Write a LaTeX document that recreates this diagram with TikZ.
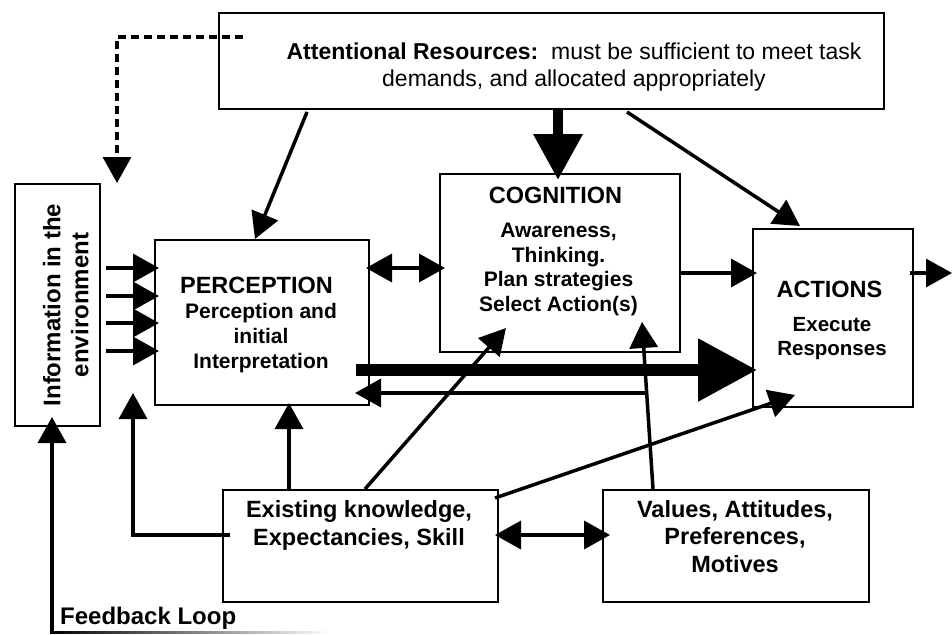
\documentclass[tikz,border=0pt]{standalone}
\usepackage{fontspec}
\setmainfont{Liberation Sans}
\usetikzlibrary{arrows.meta}
\newcommand\fsz[2]{\fontsize{#1}{#2}\selectfont}
\begin{document}
\begin{tikzpicture}[x=1pt,y=-1pt,
 box/.style={draw, line width=2pt, inner sep=0pt, anchor=north west},
 txt/.style={inner sep=0pt, align=center},
 arr/.style={line width=3.5pt, -{Triangle[length=26pt,width=28pt]}},
 darr/.style={line width=3.5pt, {Triangle[length=26pt,width=28pt]}-{Triangle[length=26pt,width=28pt]}},
]
\useasboundingbox (0,0) rectangle (952,634);
% boxes
\node[box, minimum width=665pt, minimum height=96pt] (att) at (218,12) {};
\node[box, minimum width=85pt, minimum height=242pt] (info) at (14,183) {};
\node[box, minimum width=214pt, minimum height=165pt] (perc) at (154,239) {};
\node[box, minimum width=240pt, minimum height=178pt] (cog) at (439,173) {};
\node[box, minimum width=160pt, minimum height=178pt] (act) at (752,228) {};
\node[box, minimum width=275pt, minimum height=112pt] (exist) at (222,489) {};
\node[box, minimum width=266pt, minimum height=112pt] (vals) at (602,489) {};
% texts
\node[txt, anchor=north, font=\fsz{23}{27}] (attt) at (574,42.4)
  {{\bfseries Attentional Resources:}\ \ must be sufficient to meet task\\demands, and allocated appropriately};
\node[txt, rotate=90, anchor=north, font=\fsz{24}{28}\bfseries] (infot) at (42.7,305)
  {Information in the\\environment};
\node[txt, anchor=base, font=\fsz{23.5}{28}\bfseries] (perct) at (256.5,293) {PERCEPTION};
\node[txt, anchor=north, font=\fsz{21}{25}\bfseries] (percb) at (261,302.9)
  {Perception and\\initial\\Interpretation};
\node[txt, anchor=base, font=\fsz{23.5}{28}\bfseries] (cogt) at (555.5,203) {COGNITION};
\node[txt, anchor=north, font=\fsz{21}{24.7}\bfseries] (cogb) at (558.5,222.9)
  {Awareness,\\Thinking.\\Plan strategies\\Select Action(s)};
\node[txt, anchor=base, font=\fsz{23.5}{28}\bfseries] (actt) at (829.5,297) {ACTIONS};
\node[txt, anchor=north, font=\fsz{20.5}{24}\bfseries] (actb) at (832,317.2)
  {Execute\\Responses};
\node[txt, anchor=north, font=\fsz{23.5}{28}\bfseries] (existt) at (359,500.1)
  {Existing knowledge,\\Expectancies, Skill};
\node[txt, anchor=north, font=\fsz{23.5}{27.5}\bfseries] (valst) at (735,500.1)
  {Values, Attitudes,\\Preferences,\\Motives};
\node[txt, anchor=base west, font=\fsz{24}{28}\bfseries] (fbt) at (60,624) {Feedback Loop};
% coordinates
\coordinate (d0) at (243,37);
\coordinate (d1) at (117,183);
\coordinate (a1) at (307,112);
\coordinate (a1e) at (255,239);
\coordinate (a2) at (558,108);
\coordinate (a2e) at (558,180);
\coordinate (a3) at (627,112);
\coordinate (a3e) at (800,226);
\coordinate (pc1) at (366,268);
\coordinate (pc2) at (445,268);
\coordinate (ca1) at (679,273);
\coordinate (ca2) at (757,273);
\coordinate (ao1) at (910,273);
\coordinate (ao2) at (952,273);
\coordinate (big1) at (356,370);
\coordinate (big2) at (757,370);
\coordinate (bk1) at (645,393);
\coordinate (bk2) at (355,393);
\coordinate (ec1) at (365,489);
\coordinate (ec2) at (506,328);
\coordinate (ea1) at (495,498);
\coordinate (ea2) at (795,395);
\coordinate (vc1) at (653,489);
\coordinate (vc2) at (642,322);
\coordinate (ep1) at (289,489);
\coordinate (ep2) at (289,403);
\coordinate (el1) at (230,535);
\coordinate (el2) at (133,393);
\coordinate (ev1) at (495,535);
\coordinate (ev2) at (610,535);
\coordinate (fb1) at (52,634);
\coordinate (fb2) at (52,417);
\foreach \yy/\nm in {268/i1,296/i2,323/i3,351/i4}{
  \coordinate (\nm s) at (106,\yy);
  \coordinate (\nm e) at (159,\yy);
}
% connectors
\draw[line width=3.5pt, dash pattern=on 8pt off 5pt, -{Triangle[length=26pt,width=28pt]}] (d0) -| (d1);
\draw[arr] (a1) -- (a1e);
\draw[line width=10pt, -{Triangle[length=46pt,width=47pt]}] (a2) -- (a2e);
\draw[arr] (a3) -- (a3e);
\draw[darr] (pc1) -- (pc2);
\draw[arr] (ca1) -- (ca2);
\draw[arr] (ao1) -- (ao2);
\draw[line width=12pt, -{Triangle[length=59pt,width=60pt]}] (big1) -- (big2);
\draw[arr] (bk1) -- (bk2);
\draw[arr] (ec1) -- (ec2);
\draw[arr] (ea1) -- (ea2);
\draw[arr] (vc1) -- (vc2);
\draw[arr] (ep1) -- (ep2);
\draw[arr] (el1) -| (el2);
\draw[darr] (ev1) -- (ev2);
\draw[arr] (fb1) -- (fb2);
\foreach \nm in {i1,i2,i3,i4}{\draw[arr] (\nm s) -- (\nm e);}
\shade[left color=black, right color=white] (52,631) rectangle (330,633.5);
\end{tikzpicture}
\end{document}
